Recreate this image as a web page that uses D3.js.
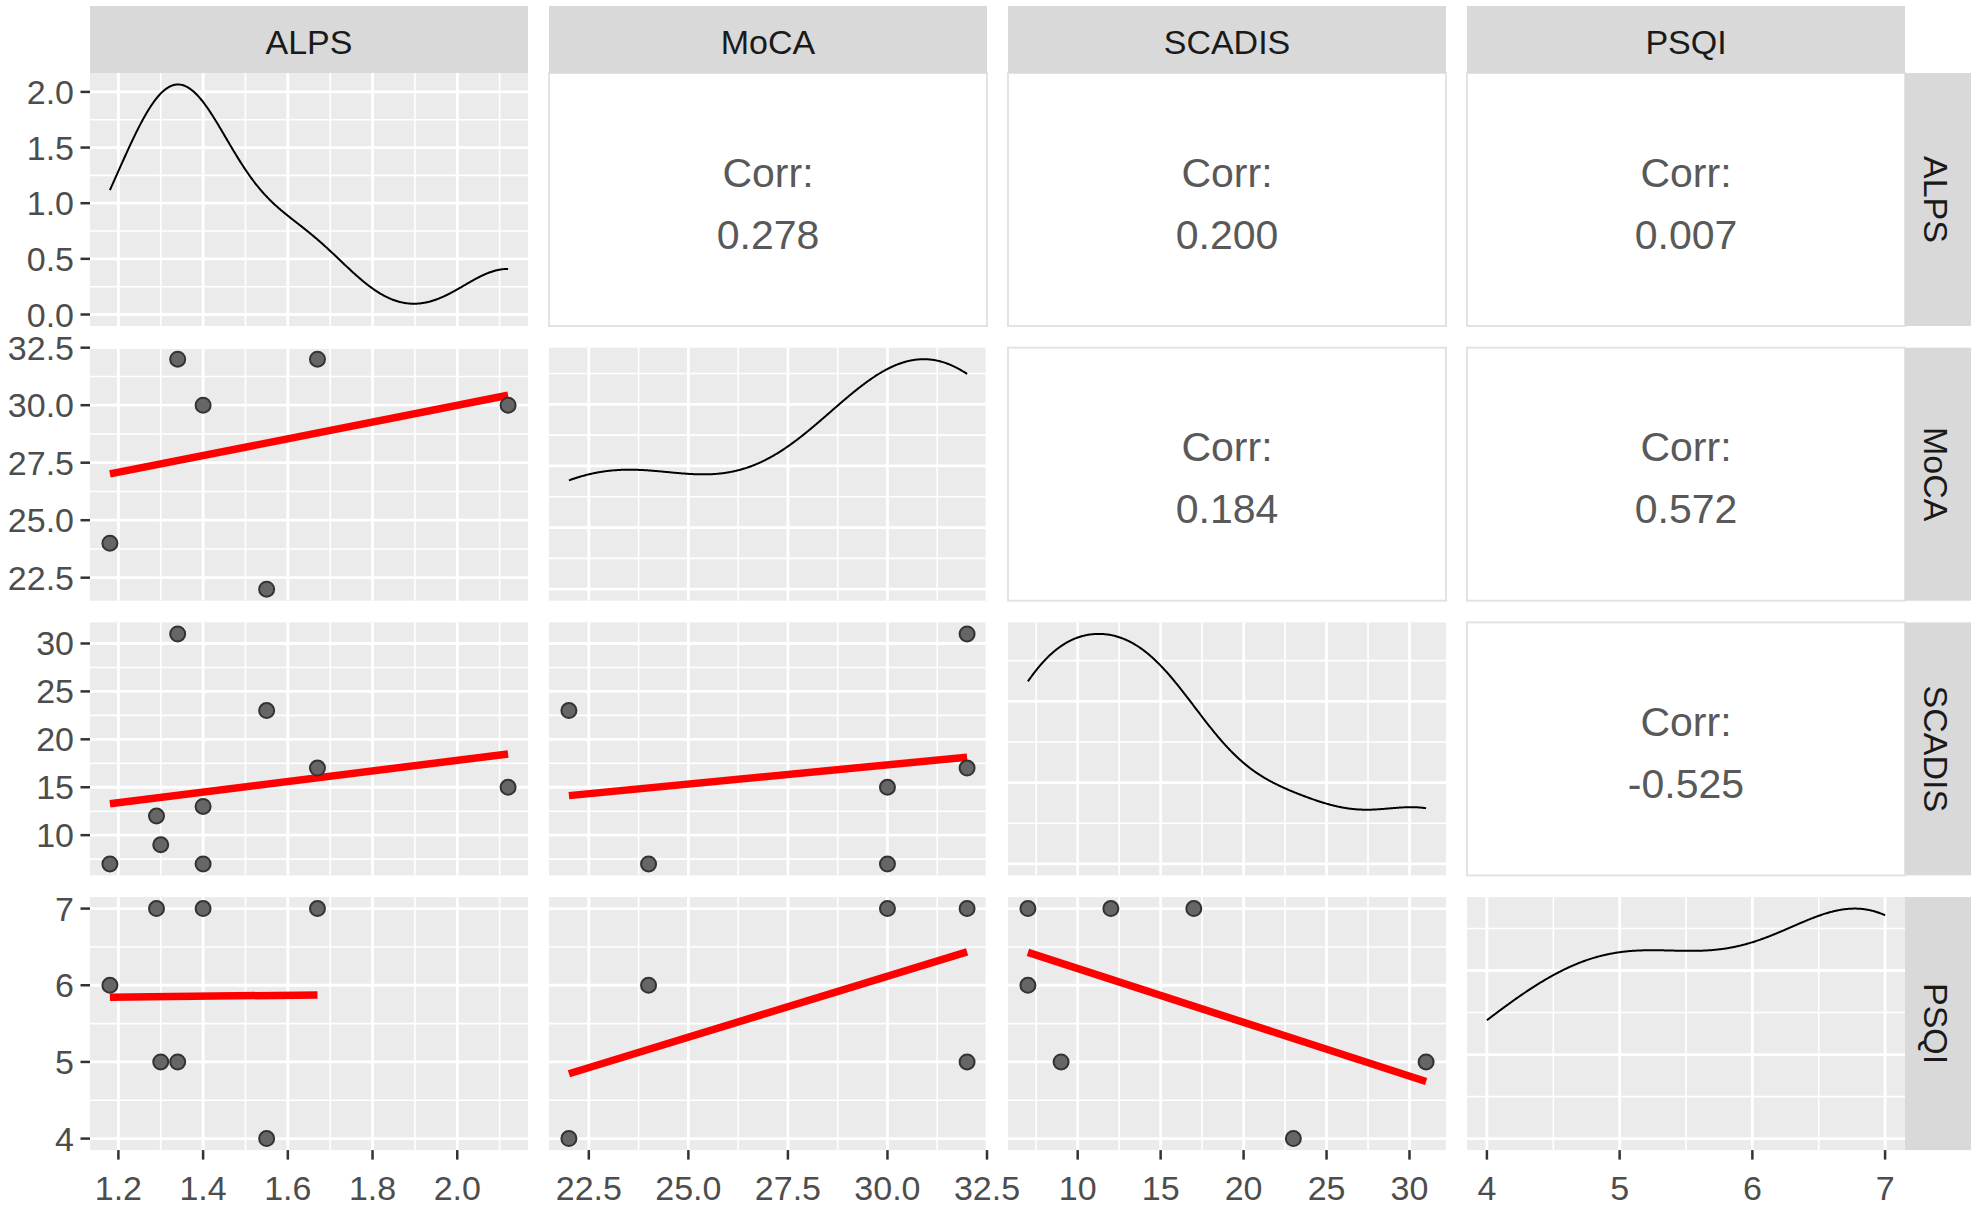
<!DOCTYPE html>
<html>
<head>
<meta charset="utf-8">
<script src="https://cdn.jsdelivr.net/npm/d3@7"></script>
<style>
  body { margin: 0; background: #fff; }
  text { font-family: "Liberation Sans", Arial, sans-serif; }
</style>
</head>
<body>
<div id="chart"></div>
<script>
// one row per subject, null = missing
const variables = ["ALPS", "MoCA", "SCADIS", "PSQI"];
const alps   = [1.18, 1.29, 1.30, 1.34, 1.40, 1.40, 1.55, 1.67, 2.12];
const moca   = [24, null, null, 32, 30, null, 22, 32, 30];
const scadis = [7, 12, 9, 31, 7, 13, 23, 17, 15];
const psqi   = [6, 7, 5, 5, 7, null, 4, 7, null];

// axis breaks as drawn in the original
const axisTicks = [
  [1.2, 1.4, 1.6, 1.8, 2.0],
  [22.5, 25, 27.5, 30, 32.5],
  [10, 15, 20, 25, 30],
  [4, 5, 6, 7]
];
const tickFormats = [".1f", ".1f", "d", "d"];
const densityTicks = [
  [0, 0.5, 1, 1.5, 2],
  [0, 0.025, 0.05, 0.075],
  [0, 0.02, 0.04],
  [0, 0.1, 0.2]
];

// upper triangle labels: [row, col, value]
const corrLabels = [
  [0, 1, "0.278"], [0, 2, "0.200"], [0, 3, "0.007"],
  [1, 2, "0.184"], [1, 3, "0.572"],
  [2, 3, "-0.525"]
];

const columns = [alps, moca, scadis, psqi];

const W = 1979, H = 1212;
const gridLeft = 90, gridTop = 73, pw = 438, ph = 253, colStep = 459, rowStep = 274.7;
const stripH = 67, stripW = 66;
const fontAxis = 34, fontStrip = 34, fontCorr = 41;

const svg = d3.select("#chart").append("svg")
  .attr("width", W).attr("height", H);

function expand(ext) {
  const pad = (ext[1] - ext[0]) * 0.05;
  return [ext[0] - pad, ext[1] + pad];
}

function minorOf(ticks, domain) {
  const step = ticks[1] - ticks[0];
  const ext = [ticks[0] - step].concat(ticks, [ticks[ticks.length - 1] + step]);
  const out = [];
  for (let i = 0; i < ext.length - 1; i++) out.push((ext[i] + ext[i + 1]) / 2);
  return out.filter(v => v >= domain[0] && v <= domain[1]);
}

function bwNrd0(x) {
  const s = d3.deviation(x);
  const sorted = x.slice().sort(d3.ascending);
  const iqr = d3.quantileSorted(sorted, 0.75) - d3.quantileSorted(sorted, 0.25);
  return 0.9 * Math.min(s, iqr / 1.34) * Math.pow(x.length, -0.2);
}

function kde(x) {
  const bw = bwNrd0(x);
  const [lo, hi] = d3.extent(x);
  const n = 512;
  const c = 1 / (x.length * bw * Math.sqrt(2 * Math.PI));
  return d3.range(n).map(i => {
    const t = lo + (hi - lo) * i / (n - 1);
    let s = 0;
    x.forEach(v => { const z = (t - v) / bw; s += Math.exp(-0.5 * z * z); });
    return [t, s * c];
  });
}

function pairs(a, b) {
  const out = [];
  a.forEach((v, i) => { if (v != null && b[i] != null) out.push([v, b[i]]); });
  return out;
}

function lmLine(pts) {
  const mx = d3.mean(pts, d => d[0]), my = d3.mean(pts, d => d[1]);
  let sxy = 0, sxx = 0;
  pts.forEach(d => { sxy += (d[0] - mx) * (d[1] - my); sxx += (d[0] - mx) ** 2; });
  const b = sxy / sxx, a = my - b * mx;
  const [x0, x1] = d3.extent(pts, d => d[0]);
  return [[x0, a + b * x0], [x1, a + b * x1]];
}

const domains = columns.map(col => expand(d3.extent(col.filter(v => v != null))));

const defs = svg.append("defs");

function drawGrid(g, x, y, xt, yt) {
  const xd = x.domain(), yd = y.domain();
  const xMin = minorOf(xt, xd), yMin = minorOf(yt, yd);
  const xMaj = xt.filter(v => v >= xd[0] && v <= xd[1]);
  const yMaj = yt.filter(v => v >= yd[0] && v <= yd[1]);
  g.selectAll("line.xminor").data(xMin).enter().append("line")
    .attr("x1", d => x(d)).attr("x2", d => x(d)).attr("y1", 0).attr("y2", ph)
    .attr("stroke", "#fff").attr("stroke-width", 1.6);
  g.selectAll("line.yminor").data(yMin).enter().append("line")
    .attr("y1", d => y(d)).attr("y2", d => y(d)).attr("x1", 0).attr("x2", pw)
    .attr("stroke", "#fff").attr("stroke-width", 1.6);
  g.selectAll("line.xmajor").data(xMaj).enter().append("line")
    .attr("x1", d => x(d)).attr("x2", d => x(d)).attr("y1", 0).attr("y2", ph)
    .attr("stroke", "#fff").attr("stroke-width", 2.8);
  g.selectAll("line.ymajor").data(yMaj).enter().append("line")
    .attr("y1", d => y(d)).attr("y2", d => y(d)).attr("x1", 0).attr("x2", pw)
    .attr("stroke", "#fff").attr("stroke-width", 2.8);
}

function drawYAxis(g, y, ticks, f) {
  const fmt = d3.format(f);
  g.selectAll("line").data(ticks).enter().append("line")
    .attr("x1", -9.5).attr("x2", 0).attr("y1", d => y(d)).attr("y2", d => y(d))
    .attr("stroke", "#333").attr("stroke-width", 2.5);
  g.selectAll("text").data(ticks).enter().append("text")
    .attr("x", -16).attr("y", d => y(d))
    .attr("text-anchor", "end").attr("dominant-baseline", "central")
    .attr("font-size", fontAxis).attr("fill", "#4d4d4d").text(d => fmt(d));
}

for (let r = 0; r < 4; r++) {
  for (let c = 0; c < 4; c++) {
    const px = gridLeft + c * colStep, py = gridTop + r * rowStep;
    const g = svg.append("g").attr("transform", `translate(${px},${py})`);
    const clipId = `clip-${r}-${c}`;
    defs.append("clipPath").attr("id", clipId)
      .append("rect").attr("width", pw).attr("height", ph);

    if (c > r) {
      g.append("rect").attr("width", pw).attr("height", ph)
        .attr("fill", "#fff").attr("stroke", "#e3e3e3").attr("stroke-width", 2);
      const lab = corrLabels.find(d => d[0] === r && d[1] === c);
      g.append("text").attr("x", pw / 2).attr("y", ph / 2 - 27)
        .attr("text-anchor", "middle").attr("dominant-baseline", "central")
        .attr("font-size", fontCorr).attr("fill", "#595959").text("Corr:");
      g.append("text").attr("x", pw / 2).attr("y", ph / 2 + 35)
        .attr("text-anchor", "middle").attr("dominant-baseline", "central")
        .attr("font-size", fontCorr).attr("fill", "#595959").text(lab[2]);
      continue;
    }

    g.append("rect").attr("width", pw).attr("height", ph).attr("fill", "#ebebeb");
    const x = d3.scaleLinear().domain(domains[c]).range([0, pw]);
    const inner = g.append("g");
    const marks = g.append("g").attr("clip-path", `url(#${clipId})`);

    if (r === c) {
      const dens = kde(columns[c].filter(v => v != null));
      const y = d3.scaleLinear()
        .domain(expand([0, d3.max(dens, d => d[1])])).range([ph, 0]);
      drawGrid(inner, x, y, axisTicks[c], densityTicks[c]);
      marks.append("path").datum(dens)
        .attr("d", d3.line().x(d => x(d[0])).y(d => y(d[1])))
        .attr("fill", "none").attr("stroke", "#000").attr("stroke-width", 2);
      if (c === 0) {
        const yAxis = svg.append("g").attr("transform", `translate(${px},${py})`);
        drawYAxis(yAxis, y, densityTicks[0], ".1f");
      }
    } else {
      const y = d3.scaleLinear().domain(domains[r]).range([ph, 0]);
      drawGrid(inner, x, y, axisTicks[c], axisTicks[r]);
      const pts = pairs(columns[c], columns[r]);
      const fit = lmLine(pts);
      marks.append("path").datum(fit)
        .attr("d", d3.line().x(d => x(d[0])).y(d => y(d[1])))
        .attr("fill", "none").attr("stroke", "#ff0000").attr("stroke-width", 7.5);
      marks.selectAll("circle").data(pts).enter().append("circle")
        .attr("cx", d => x(d[0])).attr("cy", d => y(d[1])).attr("r", 7.5)
        .attr("fill", "#666").attr("stroke", "#333").attr("stroke-width", 2);
      if (c === 0) {
        const yAxis = svg.append("g").attr("transform", `translate(${px},${py})`);
        drawYAxis(yAxis, y, axisTicks[r], tickFormats[r]);
      }
    }

    if (r === 3) {
      const xAxis = svg.append("g").attr("transform", `translate(${px},${py + ph})`);
      const fmt = d3.format(tickFormats[c]);
      const ticks = axisTicks[c];
      xAxis.selectAll("line").data(ticks).enter().append("line")
        .attr("x1", d => x(d)).attr("x2", d => x(d)).attr("y1", 0).attr("y2", 9.5)
        .attr("stroke", "#333").attr("stroke-width", 2.5);
      xAxis.selectAll("text").data(ticks).enter().append("text")
        .attr("x", d => x(d)).attr("y", 50)
        .attr("text-anchor", "middle").attr("font-size", fontAxis)
        .attr("fill", "#4d4d4d").text(d => fmt(d));
    }
  }
}

// column strips on top
variables.forEach((v, c) => {
  const sx = gridLeft + c * colStep;
  svg.append("rect").attr("x", sx).attr("y", gridTop - stripH).attr("width", pw).attr("height", stripH)
    .attr("fill", "#d9d9d9");
  svg.append("text").attr("x", sx + pw / 2).attr("y", gridTop - stripH / 2 + 2)
    .attr("text-anchor", "middle").attr("dominant-baseline", "central")
    .attr("font-size", fontStrip).attr("fill", "#1a1a1a").text(v);
});

// row strips on the right
variables.forEach((v, r) => {
  const sx = gridLeft + 3 * colStep + pw, sy = gridTop + r * rowStep;
  svg.append("rect").attr("x", sx).attr("y", sy).attr("width", stripW).attr("height", ph)
    .attr("fill", "#d9d9d9");
  svg.append("text")
    .attr("transform", `translate(${sx + stripW / 2 - 2},${sy + ph / 2}) rotate(90)`)
    .attr("text-anchor", "middle").attr("dominant-baseline", "central")
    .attr("font-size", fontStrip).attr("fill", "#1a1a1a").text(v);
});
</script>
</body>
</html>
